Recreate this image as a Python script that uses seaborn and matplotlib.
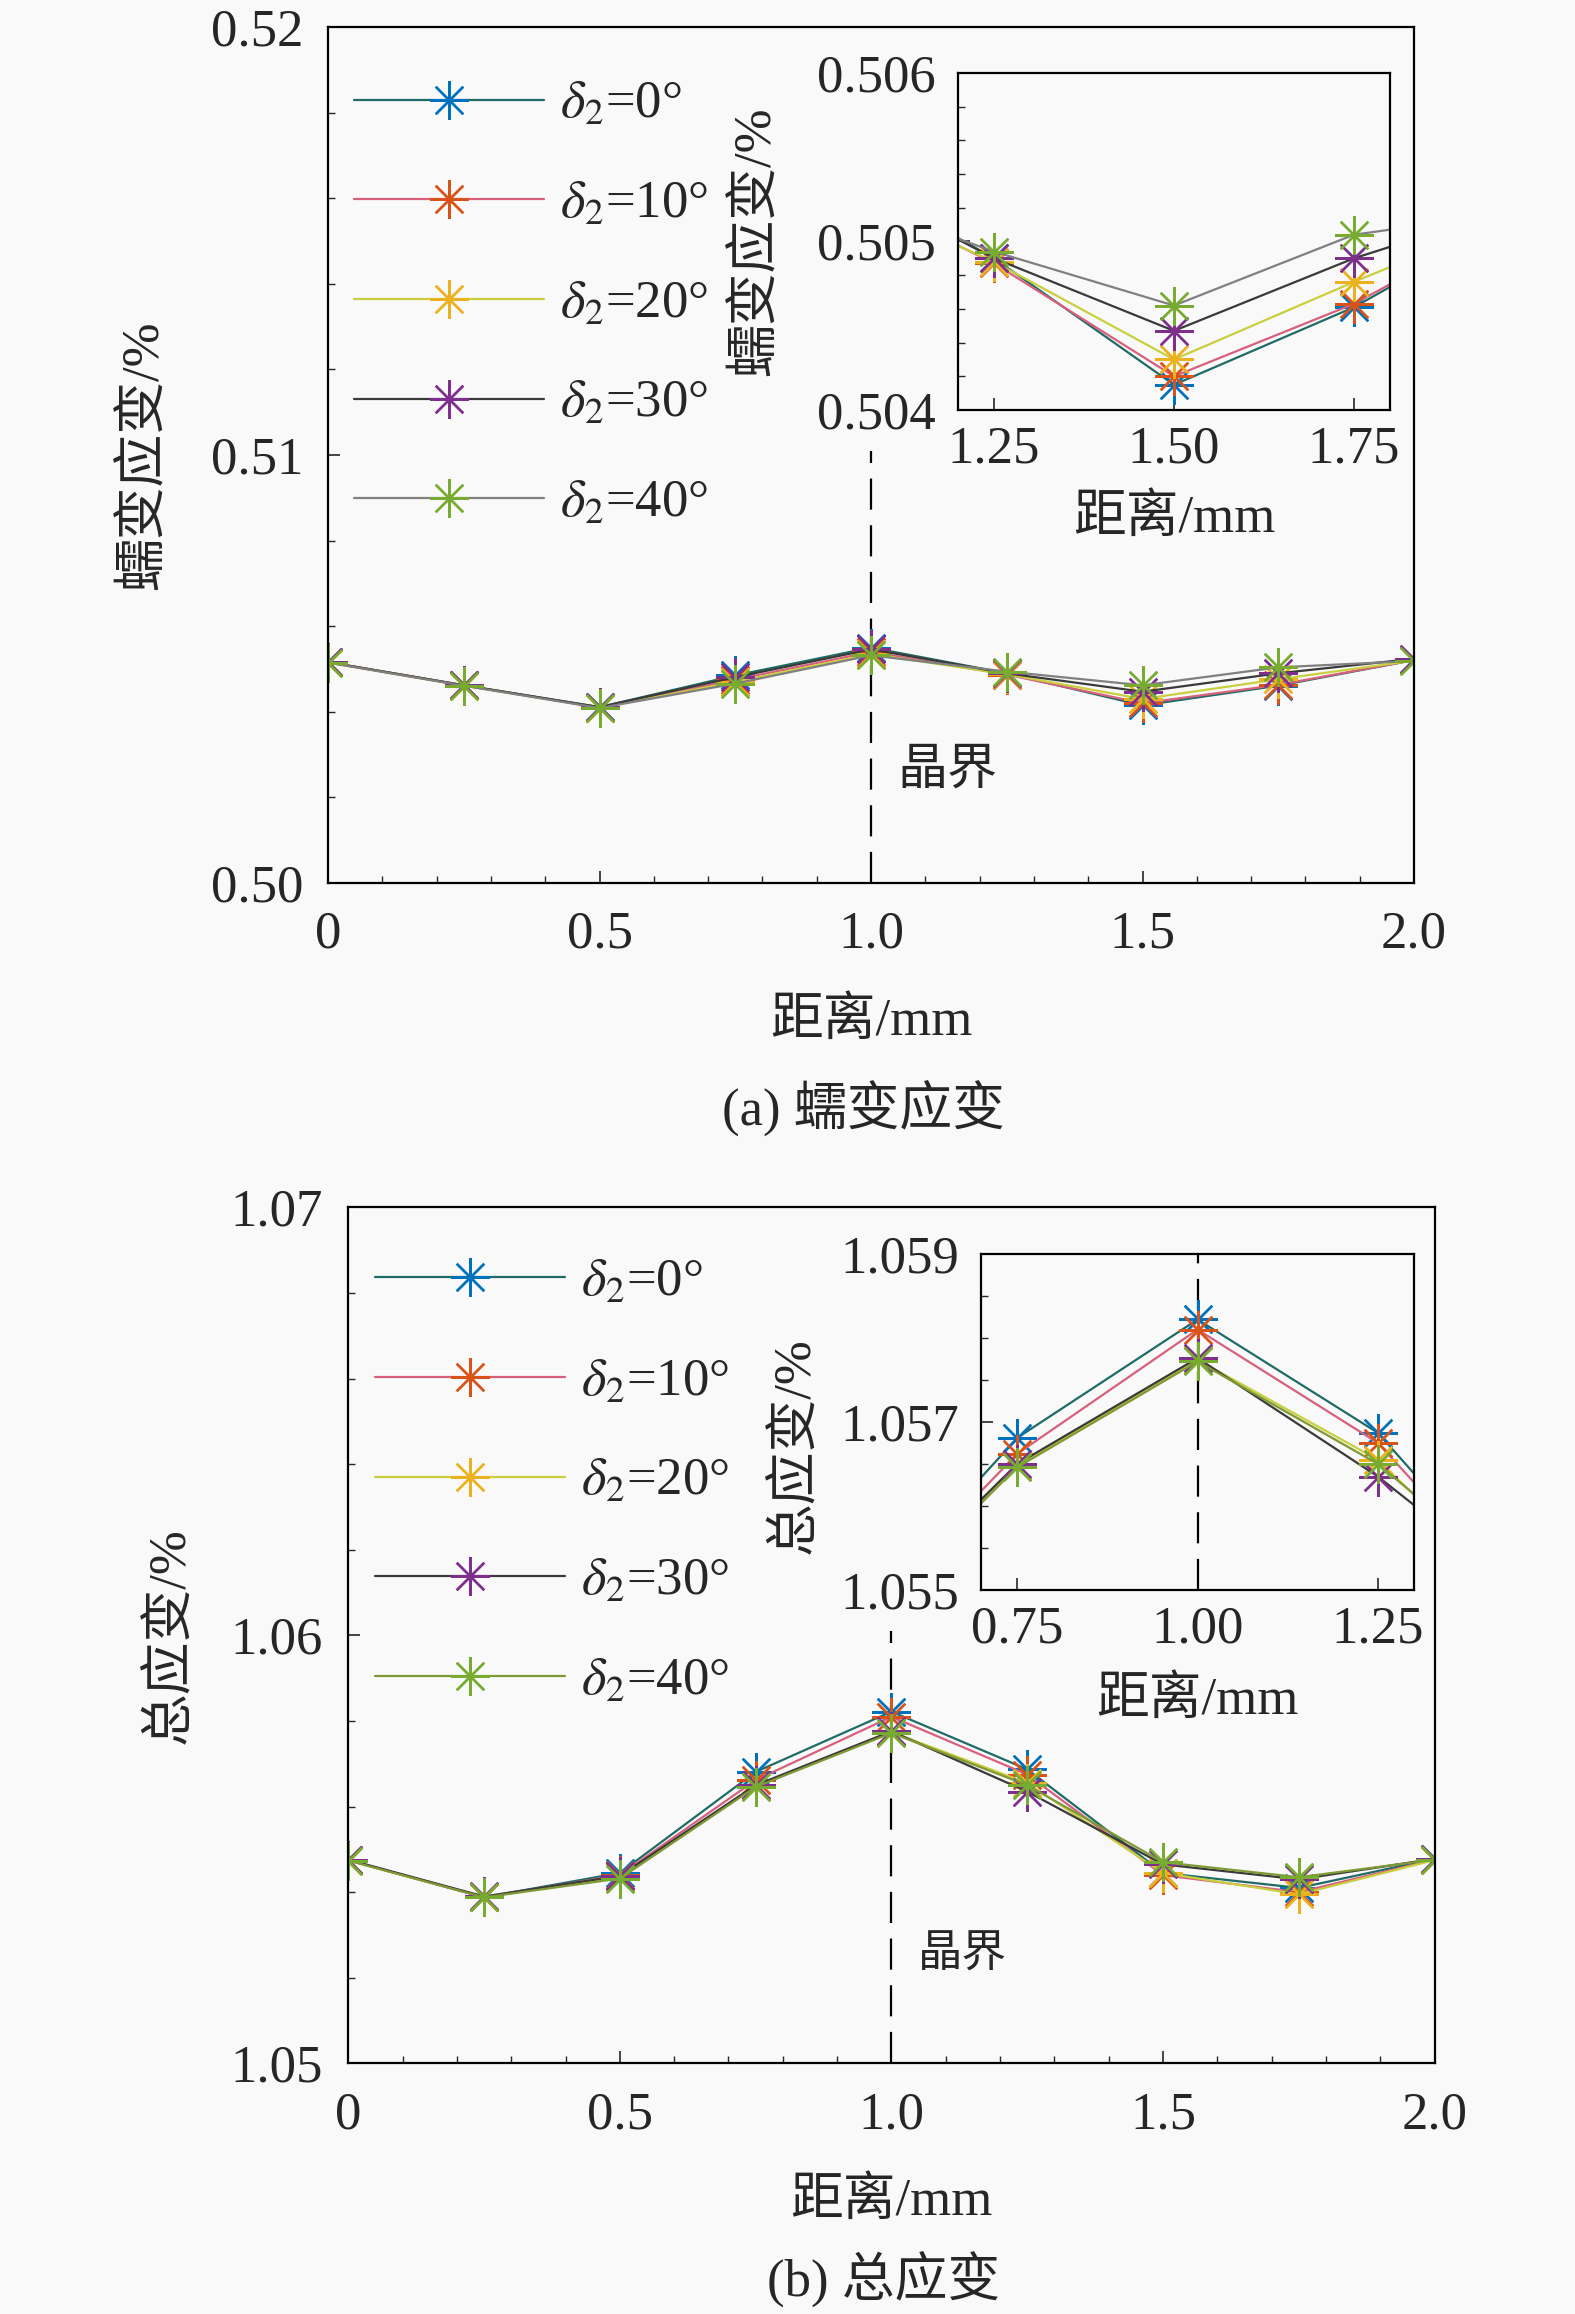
import numpy as np
import pandas as pd
import matplotlib
matplotlib.use("Agg")
import matplotlib.pyplot as plt
from matplotlib.ticker import MultipleLocator, FixedLocator
import seaborn as sns

# distance along the path (mm)
distance = [0, 0.25, 0.5, 0.75, 1.0, 1.25, 1.5, 1.75, 2.0]
angles = ["0", "10", "20", "30", "40"]

# (a) creep strain, %
creep_0 = [0.50516, 0.50462, 0.50411, 0.50485, 0.50550, 0.50490, 0.50415, 0.50461, 0.50521]
creep_10 = [0.50516, 0.50462, 0.50410, 0.50475, 0.50540, 0.50487, 0.50420, 0.50463, 0.50521]
creep_20 = [0.50515, 0.50461, 0.50410, 0.50470, 0.50535, 0.50488, 0.50430, 0.50476, 0.50520]
creep_30 = [0.50516, 0.50462, 0.50411, 0.50481, 0.50546, 0.50490, 0.50447, 0.50490, 0.50524]
creep_40 = [0.50515, 0.50461, 0.50409, 0.50466, 0.50532, 0.50494, 0.50462, 0.50504, 0.50519]

# (b) total strain, %
total_0 = [1.05475, 1.05388, 1.05445, 1.05681, 1.05822, 1.05687, 1.05445, 1.05410, 1.05478]
total_10 = [1.05475, 1.05388, 1.05440, 1.05662, 1.05810, 1.05675, 1.05440, 1.05400, 1.05476]
total_20 = [1.05474, 1.05389, 1.05435, 1.05648, 1.05774, 1.05655, 1.05445, 1.05395, 1.05475]
total_30 = [1.05476, 1.05390, 1.05438, 1.05650, 1.05776, 1.05635, 1.05465, 1.05430, 1.05478]
total_40 = [1.05474, 1.05388, 1.05432, 1.05646, 1.05772, 1.05650, 1.05470, 1.05435, 1.05476]

creep = [creep_0, creep_10, creep_20, creep_30, creep_40]
total = [total_0, total_10, total_20, total_30, total_40]

main_xticks = [0, 0.5, 1.0, 1.5, 2.0]
main_xlabels = ["0", "0.5", "1.0", "1.5", "2.0"]
creep_yticks = [0.50, 0.51, 0.52]
creep_ylabels = ["0.50", "0.51", "0.52"]
total_yticks = [1.05, 1.06, 1.07]
total_ylabels = ["1.05", "1.06", "1.07"]
creep_in_xticks = [1.25, 1.50, 1.75]
creep_in_xlabels = ["1.25", "1.50", "1.75"]
creep_in_yticks = [0.504, 0.505, 0.506]
creep_in_ylabels = ["0.504", "0.505", "0.506"]
total_in_xticks = [0.75, 1.00, 1.25]
total_in_xlabels = ["0.75", "1.00", "1.25"]
total_in_yticks = [1.055, 1.057, 1.059]
total_in_ylabels = ["1.055", "1.057", "1.059"]

marker_colors = ["#0072BD", "#D95319", "#EDB120", "#7E2F8E", "#77AC30"]
line_colors_a = ["#1f6b66", "#d8607c", "#c9cf3e", "#3a3a3a", "#808080"]
line_colors_b = ["#1f6b66", "#d8607c", "#c9cf3e", "#3a3a3a", "#7f9a35"]

sns.set_style("ticks")
bg = "#f9f9f9"
plt.rcParams["font.family"] = ["Liberation Serif", "Noto Sans CJK SC"]
plt.rcParams["mathtext.fontset"] = "stix"
plt.rcParams["axes.unicode_minus"] = False
plt.rcParams["axes.linewidth"] = 1.5
plt.rcParams["figure.facecolor"] = bg
plt.rcParams["axes.facecolor"] = bg

FS = 38
star = (8, 2, 0)


def draw_series(ax, values, line_colors, ms=28, with_label=True):
    for i, ang in enumerate(angles):
        df = pd.DataFrame({"x": distance, "y": values[i]})
        sns.lineplot(data=df, x="x", y="y", ax=ax, color=line_colors[i],
                     lw=1.6, marker=star, markersize=ms,
                     markeredgecolor=marker_colors[i], markeredgewidth=1.7,
                     label=(r"$\delta_2$=" + ang + "°") if with_label else None)


def style_axes(ax, xticks, xlabels, yticks, ylabels, xpad, ypad):
    ax.set_xticks(xticks)
    ax.set_xticklabels(xlabels)
    ax.set_yticks(yticks)
    ax.set_yticklabels(ylabels)
    ax.tick_params(which="both", direction="in", top=False, right=False, labelsize=FS)
    ax.tick_params(axis="x", which="major", length=8.5, width=1.2, pad=xpad)
    ax.tick_params(axis="y", which="major", length=8.5, width=1.2, pad=ypad)
    ax.tick_params(which="minor", length=5, width=1.0)
    for s in ax.spines.values():
        s.set_visible(True)
        s.set_linewidth(1.6)
        s.set_color("black")


fig = plt.figure(figsize=(15.75, 23.14), dpi=100)

panels = [
    dict(main=[0.2083, 0.6184, 0.6895, 0.3699], inset=[0.6083, 0.8228, 0.2742, 0.1457],
         data=creep, lc=line_colors_a, ylim=(0.50, 0.52), yt=creep_yticks, yl=creep_ylabels,
         ylabel="蠕变应变/%", ylx=-0.147, xlly=-0.133, leg=(0.024, 0.937),
         ixlim=(1.2, 1.8), iylim=(0.504, 0.506), ixt=creep_in_xticks, ixl=creep_in_xlabels,
         iyt=creep_in_yticks, iyl=creep_in_ylabels, iyminor=0.0002, iylx=-0.412, iyly=0.5,
         ixly=-0.25, vtop=0.5101, gb=(1.049, 0.50262), gbfs=36, idash=False,
         cap="(a) 蠕变应变", capxy=(0.548, 0.521)),
    dict(main=[0.2211, 0.1083, 0.6898, 0.3699], inset=[0.6229, 0.3129, 0.2749, 0.1452],
         data=total, lc=line_colors_b, ylim=(1.05, 1.07), yt=total_yticks, yl=total_ylabels,
         ylabel="总应变/%", ylx=-0.141, xlly=-0.133, leg=(0.025, 0.94),
         ixlim=(0.7, 1.3), iylim=(1.055, 1.059), ixt=total_in_xticks, ixl=total_in_xlabels,
         iyt=total_in_yticks, iyl=total_in_ylabels, iyminor=0.0005, iylx=-0.372, iyly=0.43,
         ixly=-0.255, vtop=1.0601, gb=(1.049, 1.05252), gbfs=32, idash=True,
         cap="(b) 总应变", capxy=(0.561, 0.0147)),
]

for p in panels:
    ax = fig.add_axes(p["main"])
    ax.vlines(1.0, p["ylim"][0], p["vtop"], colors="black", lw=1.6,
              linestyles=(0, (14, 7)), zorder=1)
    draw_series(ax, p["data"], p["lc"])
    ax.set_xlim(0, 2.0)
    ax.set_ylim(*p["ylim"])
    style_axes(ax, main_xticks, main_xlabels, p["yt"], p["yl"], xpad=20, ypad=18)
    ax.xaxis.set_minor_locator(MultipleLocator(0.1))
    ax.yaxis.set_minor_locator(MultipleLocator(0.002))
    ax.set_xlabel("距离/mm", fontsize=FS)
    ax.set_ylabel(p["ylabel"], fontsize=FS)
    ax.xaxis.set_label_coords(0.5, p["xlly"])
    ax.yaxis.set_label_coords(p["ylx"], 0.5)
    ax.text(p["gb"][0], p["gb"][1], "晶界", fontsize=p["gbfs"], ha="left", va="center")
    ax.legend(loc="upper left", bbox_to_anchor=p["leg"], frameon=False, fontsize=FS,
              handlelength=3.6, handletextpad=0.3, labelspacing=0.98,
              borderpad=0, borderaxespad=0)

    axi = fig.add_axes(p["inset"])
    if p["idash"]:
        axi.axvline(1.0, color="black", lw=1.6, linestyle=(0, (14, 7)), zorder=1)
    draw_series(axi, p["data"], p["lc"], with_label=False)
    axi.set_xlim(*p["ixlim"])
    axi.set_ylim(*p["iylim"])
    style_axes(axi, p["ixt"], p["ixl"], p["iyt"], p["iyl"], xpad=11, ypad=16)
    axi.xaxis.set_minor_locator(FixedLocator([]))
    axi.yaxis.set_minor_locator(MultipleLocator(p["iyminor"]))
    axi.set_xlabel("距离/mm", fontsize=FS)
    axi.set_ylabel(p["ylabel"], fontsize=FS)
    axi.xaxis.set_label_coords(0.5, p["ixly"])
    axi.yaxis.set_label_coords(p["iylx"], p["iyly"])
    if axi.get_legend() is not None:
        axi.get_legend().remove()

    fig.text(p["capxy"][0], p["capxy"][1], p["cap"], fontsize=FS, ha="center", va="center")

fig.savefig("out.png", dpi=100, facecolor=bg)
